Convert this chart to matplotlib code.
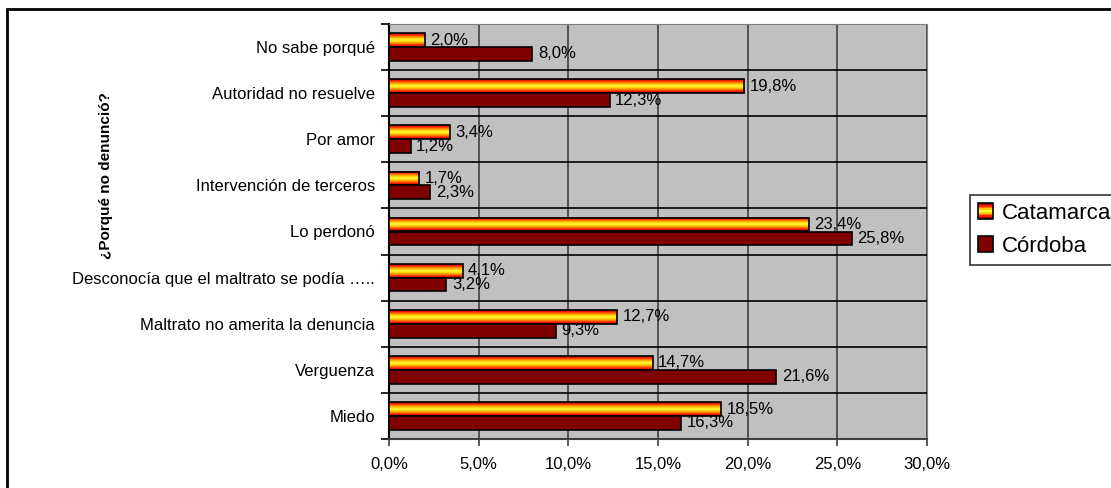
import numpy as np
import matplotlib.pyplot as plt
from matplotlib.patches import Rectangle
from matplotlib.legend_handler import HandlerBase
from matplotlib.colors import LinearSegmentedColormap

plt.rcParams['font.family'] = ['Liberation Sans', 'DejaVu Sans']

categorias = ['No sabe porqué', 'Autoridad no resuelve', 'Por amor',
              'Intervención de terceros', 'Lo perdonó',
              'Desconocía que el maltrato se podía …..',
              'Maltrato no amerita la denuncia', 'Verguenza', 'Miedo']
catamarca = [2.0, 19.8, 3.4, 1.7, 23.4, 4.1, 12.7, 14.7, 18.5]
cordoba = [8.0, 12.3, 1.2, 2.3, 25.8, 3.2, 9.3, 21.6, 16.3]
xticks = [0, 5, 10, 15, 20, 25, 30]

# red-orange-yellow-orange-red stripes for the Catamarca bars
grad_colors = ['#A00000', '#FF2000', '#FF8000', '#FFD000', '#FFFF40',
               '#FFD000', '#FF8000', '#FF2000', '#A00000']
grad_cmap = LinearSegmentedColormap.from_list('fuego', grad_colors)
grad = np.linspace(0, 1, 64).reshape(-1, 1)


class HandlerGradient(HandlerBase):
    def create_artists(self, legend, orig_handle, xdescent, ydescent,
                       width, height, fontsize, trans):
        n = 9
        arts = []
        for i in range(n):
            c = grad_cmap(i / (n - 1))
            r = Rectangle((-xdescent, -ydescent + height * i / n), width,
                          height / n, facecolor=c, edgecolor='none',
                          transform=trans)
            arts.append(r)
        arts.append(Rectangle((-xdescent, -ydescent), width, height,
                              facecolor='none', edgecolor='black', lw=1.2,
                              transform=trans))
        return arts


fig = plt.figure(figsize=(11.11, 4.88), dpi=100)
ax = fig.add_axes([389 / 1111, 49 / 488, 538 / 1111, 415 / 488])
ax.set_facecolor('#C0C0C0')

y = np.arange(len(categorias))
h = 0.3
fs = 12

for yi, v in zip(y, catamarca):
    ax.imshow(grad, cmap=grad_cmap, aspect='auto', interpolation='bilinear',
              extent=(0, v, yi, yi - h), zorder=3)
bars_cat = ax.barh(y - h / 2, catamarca, height=h, facecolor='none',
                   edgecolor='black', lw=1.2, zorder=4)
bars_cor = ax.barh(y + h / 2, cordoba, height=h, color='#800000',
                   edgecolor='black', lw=1.2, zorder=4)

for yi, v in zip(y, catamarca):
    ax.annotate(f'{v:.1f}%'.replace('.', ','), (v, yi - h / 2),
                xytext=(4, 0), textcoords='offset points', va='center',
                ha='left', fontsize=fs, zorder=5)
for yi, v in zip(y, cordoba):
    ax.annotate(f'{v:.1f}%'.replace('.', ','), (v, yi + h / 2),
                xytext=(4, 0), textcoords='offset points', va='center',
                ha='left', fontsize=fs, zorder=5)

ax.set_xlim(0, 30)
ax.set_ylim(len(categorias) - 0.5, -0.5)
ax.set_xticks(xticks)
ax.set_xticklabels([f'{t:.1f}%'.replace('.', ',') for t in xticks],
                   fontsize=fs)
ax.set_yticks(y)
ax.set_yticklabels(categorias, fontsize=fs)
ax.set_yticks(np.arange(len(categorias) + 1) - 0.5, minor=True)
ax.tick_params(axis='y', which='major', length=0, pad=10)
ax.tick_params(axis='y', which='minor', length=6, width=1.2, direction='out')
ax.tick_params(axis='x', length=5, width=1.2, color='#404040', pad=8)

ax.grid(axis='x', which='major', color='#404040', lw=1.2, zorder=1)
ax.grid(axis='y', which='minor', color='black', lw=1.2, zorder=1)
ax.set_axisbelow(True)

for side in ['top', 'right']:
    ax.spines[side].set_color('#808080')
ax.spines['left'].set_color('black')
ax.spines['left'].set_linewidth(1.5)
ax.spines['bottom'].set_color('#404040')
ax.spines['bottom'].set_linewidth(1.5)

ax.set_ylabel('¿Porqué no denunció?', fontsize=11, fontweight='bold')
ax.yaxis.set_label_coords(-0.513, 0.634)

leg = fig.legend([bars_cat, bars_cor], ['Catamarca', 'Córdoba'],
                 handler_map={bars_cat: HandlerGradient()},
                 loc='upper left', bbox_to_anchor=(970 / 1111, 1 - 195 / 488),
                 fontsize=16, frameon=True, fancybox=False, borderpad=0.35,
                 handlelength=0.7, handleheight=0.7, handletextpad=0.4,
                 labelspacing=0.55, borderaxespad=0)
leg.get_frame().set_edgecolor('black')
leg.get_frame().set_linewidth(1.2)

# outer chart border, runs off the right and bottom edges
fig.patches.append(Rectangle((7 / 1111, -0.1), 1.2, 1.1 - 9 / 488,
                             transform=fig.transFigure, fill=False,
                             edgecolor='black', lw=2))

fig.savefig('out.png', dpi=100)
